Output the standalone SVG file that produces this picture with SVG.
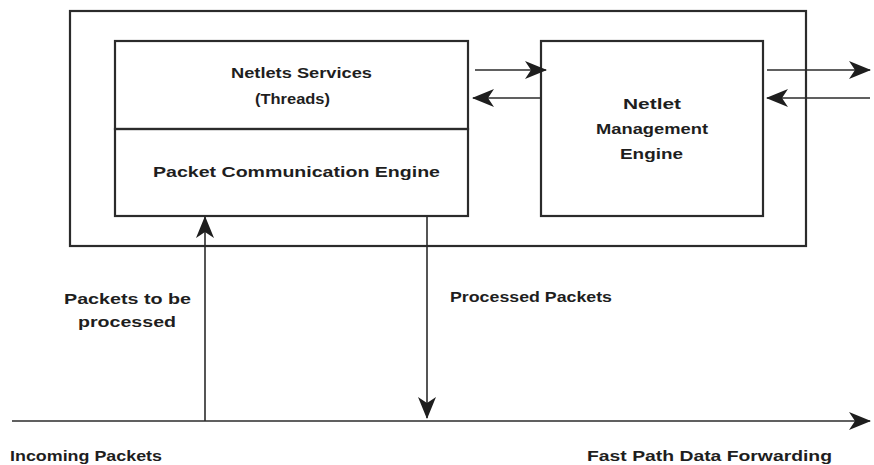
<svg xmlns="http://www.w3.org/2000/svg" width="874" height="465" viewBox="0 0 874 465">
  <style>
    .box { fill: none; stroke: #2b2b2b; stroke-width: 2.2; }
    .line { fill: none; stroke: #2b2b2b; stroke-width: 1.6; }
    .lbl { font-family: "Liberation Sans", Arial, sans-serif; font-weight: bold; font-size: 15px; fill: #1e1e1e; }
  </style>
  <defs>
    <marker id="arr" viewBox="0 0 22 18" refX="21" refY="9" markerWidth="22" markerHeight="18" markerUnits="userSpaceOnUse" orient="auto">
      <path d="M0,0 L22,9 L0,18 L6,9 Z" fill="#1e1e1e"/>
    </marker>
  </defs>
  <rect width="874" height="465" fill="#ffffff"/>

  <g id="platform">
    <rect class="box" x="70" y="11" width="736" height="235"/>
  </g>

  <g id="netlets-services">
    <rect class="box" x="115" y="41" width="353" height="88"/>
    <text class="lbl" x="231" y="78" textLength="141" lengthAdjust="spacingAndGlyphs">Netlets Services</text>
    <text class="lbl" x="255" y="104" textLength="75" lengthAdjust="spacingAndGlyphs">(Threads)</text>
  </g>

  <g id="packet-engine">
    <rect class="box" x="115" y="129" width="353" height="87"/>
    <text class="lbl" x="153" y="177" textLength="287" lengthAdjust="spacingAndGlyphs">Packet Communication Engine</text>
  </g>

  <g id="management-engine">
    <rect class="box" x="541" y="41" width="222" height="175"/>
    <text class="lbl" x="623" y="109" textLength="58" lengthAdjust="spacingAndGlyphs">Netlet</text>
    <text class="lbl" x="596" y="134" textLength="112" lengthAdjust="spacingAndGlyphs">Management</text>
    <text class="lbl" x="620" y="159" textLength="63" lengthAdjust="spacingAndGlyphs">Engine</text>
  </g>

  <g id="connectors">
    <line class="line" x1="475" y1="70" x2="546" y2="70" marker-end="url(#arr)"/>
    <line class="line" x1="541" y1="98" x2="473" y2="98" marker-end="url(#arr)"/>
    <line class="line" x1="767" y1="70" x2="870" y2="70" marker-end="url(#arr)"/>
    <line class="line" x1="870" y1="98" x2="767" y2="98" marker-end="url(#arr)"/>
    <line class="line" x1="205" y1="421" x2="205" y2="217" marker-end="url(#arr)"/>
    <line class="line" x1="427" y1="216" x2="427" y2="418" marker-end="url(#arr)"/>
    <line class="line" x1="12" y1="421" x2="870" y2="421" marker-end="url(#arr)"/>
  </g>

  <g id="labels">
    <text class="lbl" x="64" y="304" textLength="127" lengthAdjust="spacingAndGlyphs">Packets to be</text>
    <text class="lbl" x="78" y="327" textLength="98" lengthAdjust="spacingAndGlyphs">processed</text>
    <text class="lbl" x="450" y="302" textLength="162" lengthAdjust="spacingAndGlyphs">Processed Packets</text>
    <text class="lbl" x="10" y="461" textLength="152" lengthAdjust="spacingAndGlyphs">Incoming Packets</text>
    <text class="lbl" x="587" y="461" textLength="245" lengthAdjust="spacingAndGlyphs">Fast Path Data Forwarding</text>
  </g>
</svg>
